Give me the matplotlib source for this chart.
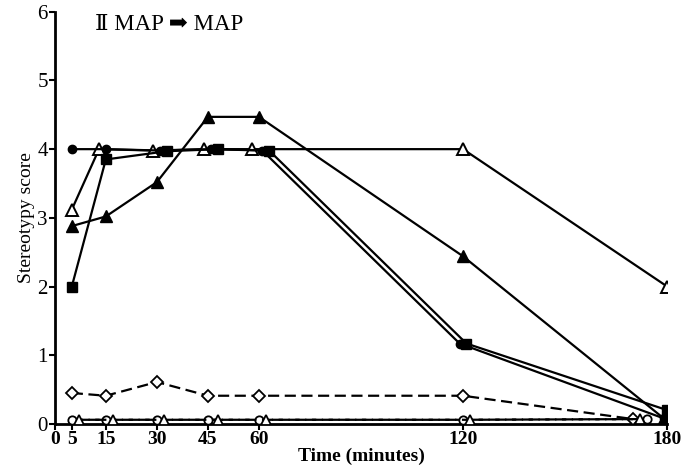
import matplotlib
matplotlib.use("Agg")
import matplotlib.pyplot as plt

# Stereotypy score over time, II MAP -> MAP
# solid lines
t_circle = [5, 15, 31, 46, 61, 119, 179]
v_circle = [4.0, 4.0, 3.98, 4.0, 3.98, 1.17, 0.08]

t_square = [5, 15, 33, 48, 63, 121, 180]
v_square = [2.0, 3.85, 3.97, 4.0, 3.98, 1.17, 0.2]

t_tri_filled = [5, 15, 30, 45, 60, 120, 179]
v_tri_filled = [2.88, 3.02, 3.52, 4.47, 4.47, 2.44, 0.08]

t_tri_open = [5, 13, 29, 44, 58, 120, 180]
v_tri_open = [3.12, 4.0, 3.98, 4.0, 4.0, 4.0, 2.0]

# dashed lines
t_diamond = [5, 15, 30, 45, 60, 120, 170]
v_diamond = [0.45, 0.41, 0.61, 0.41, 0.41, 0.41, 0.07]

t_circle_open = [5, 15, 30, 45, 60, 120, 174]
v_circle_open = [0.06, 0.06, 0.06, 0.06, 0.06, 0.06, 0.07]

t_tri_small = [7, 17, 32, 48, 62, 122, 172]
v_tri_small = [0.06, 0.06, 0.06, 0.06, 0.06, 0.06, 0.07]

x_ticks = [0, 5, 15, 30, 45, 60, 120, 180]
y_ticks = [0, 1, 2, 3, 4, 5, 6]

serif = ["Liberation Serif", "DejaVu Serif", "DejaVu Sans"]
plt.rcParams["font.family"] = serif

fig = plt.figure(figsize=(6.85, 4.71), dpi=100)
ax = fig.add_axes([0.080, 0.100, 0.894, 0.875])

lw = 1.6
dash = (0, (5, 2.5))

ax.plot(t_diamond, v_diamond, linestyle=dash, color="black", lw=lw,
        marker="D", ms=6.5, mfc="white", mec="black", mew=1.3, zorder=3)
ax.plot(t_circle_open, v_circle_open, linestyle=dash, color="black", lw=lw,
        marker="o", ms=6, mfc="white", mec="black", mew=1.3, zorder=3)
ax.plot(t_tri_small, v_tri_small, linestyle=dash, color="black", lw=lw,
        marker="^", ms=6.5, mfc="white", mec="black", mew=1.3, zorder=3)

ax.plot(t_tri_open, v_tri_open, "-", color="black", lw=lw,
        marker="^", ms=8.5, mfc="white", mec="black", mew=1.4, zorder=4)
ax.plot(t_tri_filled, v_tri_filled, "-", color="black", lw=lw,
        marker="^", ms=8.5, mfc="black", mec="black", zorder=4)
ax.plot(t_circle, v_circle, "-", color="black", lw=lw,
        marker="o", ms=6, mfc="black", mec="black", zorder=5)
ax.plot(t_square, v_square, "-", color="black", lw=lw,
        marker="s", ms=6.5, mfc="black", mec="black", zorder=5)

ax.set_xlim(0, 180)
ax.set_ylim(0, 6)
ax.set_xticks(x_ticks)
ax.set_yticks(y_ticks)
ax.set_xticklabels([str(t) for t in x_ticks], fontsize=14, fontweight="bold")
ax.set_yticklabels([str(v) for v in y_ticks], fontsize=15)
ax.tick_params(axis="both", direction="out", length=4, width=1.5, pad=1)

for side in ("top", "right"):
    ax.spines[side].set_visible(False)
for side in ("left", "bottom"):
    ax.spines[side].set_linewidth(2)

ax.set_ylabel("Stereotypy score", fontsize=14, labelpad=2)
ax.set_xlabel("Time (minutes)", fontsize=14, fontweight="bold", labelpad=0)

ax.text(0.066, 0.970, "\u2161 MAP \u27a1 MAP", transform=ax.transAxes,
        fontsize=16.5, va="center", ha="left", family=serif)

fig.savefig("out.png", dpi=100)
plt.close(fig)
